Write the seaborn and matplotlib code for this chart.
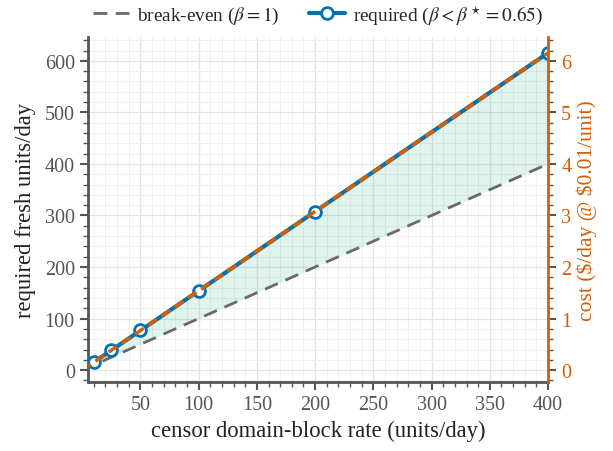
import numpy as np
import pandas as pd
import seaborn as sns
import matplotlib.pyplot as plt
from matplotlib.ticker import MultipleLocator

# censor block rate (units/day); 0 only anchors the lines at the left edge
rates = [0, 10, 25, 50, 100, 200, 400]
break_even = [0, 10, 25, 50, 100, 200, 400]
required = [0, 15.4, 38.5, 76.9, 153.8, 307.7, 615.4]
cost = [0, 0.154, 0.385, 0.769, 1.538, 3.077, 6.154]

df = pd.DataFrame({"rate": rates, "break_even": break_even,
                   "required": required, "cost": cost})

sns.set_theme(style="ticks")
plt.rcParams["font.family"] = ["Liberation Serif", "DejaVu Serif"]
plt.rcParams["mathtext.fontset"] = "stix"

blue = "#0072B2"
orange = "#D55E00"
green = "#009E73"
gray = "#696969"
spine_col = "#555555"

fig = plt.figure(figsize=(6.13, 4.52), dpi=100)
ax = fig.add_axes([0.1436, 0.1527, 0.7504, 0.763])

ax.fill_between(df["rate"], df["break_even"], df["required"],
                color=green, alpha=0.12, lw=0, zorder=1)
sns.lineplot(data=df, x="rate", y="break_even", ax=ax, color=gray,
             lw=2, linestyle=(0, (5, 3)), label=r"break-even ($\beta = 1$)", zorder=3)
sns.lineplot(data=df, x="rate", y="required", ax=ax, color=blue, lw=3,
             marker="o", markersize=8.5, markerfacecolor="white",
             markeredgecolor=blue, markeredgewidth=2, markevery=list(range(1, 7)),
             label=r"required ($\beta < \beta^\star = 0.65$)", zorder=4)

ax.set_xlim(5, 400)
ax.set_ylim(-23, 646)
ax.xaxis.set_major_locator(MultipleLocator(50))
ax.xaxis.set_minor_locator(MultipleLocator(10))
ax.yaxis.set_major_locator(MultipleLocator(100))
ax.yaxis.set_minor_locator(MultipleLocator(20))
ax.grid(which="major", color="#e3e3e3", lw=0.9)
ax.grid(which="minor", color="#f0f0f0", lw=0.7)
ax.set_axisbelow(True)

ax.set_xlabel("censor domain-block rate (units/day)", fontsize=16.3, color="#222222")
ax.set_ylabel("required fresh units/day", fontsize=16.3, color="#222222", labelpad=6)
ax.tick_params(which="major", length=6, width=1.5, color=spine_col,
               labelsize=14.5, labelcolor="#555555", direction="out")
ax.tick_params(which="minor", length=3.5, width=1, color=spine_col, direction="out")
for s in ["left", "bottom"]:
    ax.spines[s].set_color(spine_col)
    ax.spines[s].set_linewidth(2)
ax.spines["top"].set_visible(False)
ax.spines["right"].set_visible(False)

ax2 = ax.twinx()
sns.lineplot(data=df, x="rate", y="cost", ax=ax2, color=orange, lw=2.5,
             linestyle=(0, (3, 1.6)), zorder=5, legend=False)
ax2.set_ylim(-0.23, 6.46)
ax2.yaxis.set_major_locator(MultipleLocator(1))
ax2.yaxis.set_minor_locator(MultipleLocator(0.2))
ax2.set_ylabel(r"cost (\$/day @ \$0.01/unit)", fontsize=15.5, color=orange)
ax2.tick_params(which="major", length=6, width=1.5, color=spine_col,
                labelsize=14.5, labelcolor=orange)
ax2.tick_params(which="minor", length=3.5, width=1, color=spine_col)
ax2.spines["right"].set_color(orange)
ax2.spines["right"].set_linewidth(2)
for s in ["left", "top", "bottom"]:
    ax2.spines[s].set_visible(False)

ax.legend(loc="lower center", bbox_to_anchor=(0.5, 1.0), ncol=2, frameon=False,
          fontsize=13.9, handlelength=1.85, handletextpad=0.4,
          columnspacing=1.55, borderaxespad=0.2)

fig.savefig("out.png", dpi=100)
